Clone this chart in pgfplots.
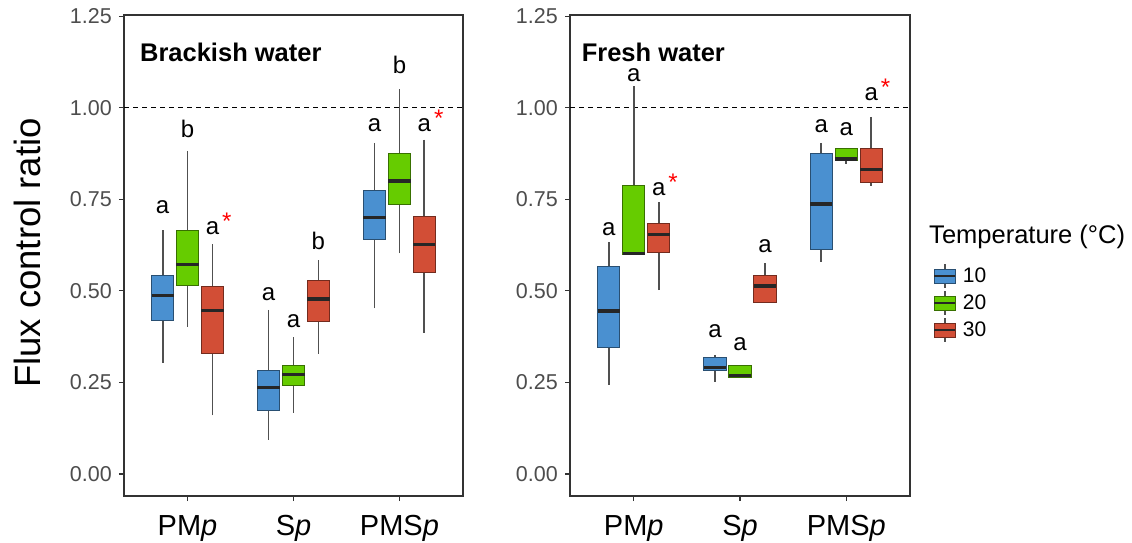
\documentclass[border=0pt]{standalone}
\usepackage{fontspec}
\setmainfont{Liberation Sans}
\usepackage{pgfplots}
\pgfplotsset{compat=1.18}
\usepgfplotslibrary{statistics}
\definecolor{c10}{RGB}{74,144,208}
\definecolor{c20}{RGB}{102,204,0}
\definecolor{c30}{RGB}{210,78,54}
\definecolor{tickgray}{RGB}{77,77,77}
\definecolor{axgray}{RGB}{51,51,51}
\definecolor{whisk}{RGB}{80,80,80}

% draw position, lower whisker, lower quartile, median, upper quartile, upper whisker, colour
\newcommand{\bx}[7]{\addplot[forget plot, fill=#7, draw=#7!55!black, line width=0.9bp,
  boxplot prepared={draw position=#1, lower whisker=#2, lower quartile=#3,
  median=#4, upper quartile=#5, upper whisker=#6, box extend=0.21, whisker extend=0,
  every whisker/.style={draw=whisk, line width=1.7bp},
  every median/.style={draw=black!85, line width=3.2bp}}]
  coordinates {};}
\newcommand{\st}{\rlap{\raisebox{5bp}{\hspace{3bp}\textcolor{red}{*}}}}
\tikzset{lbl/.style={anchor=base, font=\fontsize{24bp}{28bp}\selectfont, inner sep=0pt}}

\pgfplotsset{
  panel/.style={
    scale only axis, width=339bp, height=481bp,
    xmin=0.4, xmax=3.6, ymin=-0.06, ymax=1.253,
    xtick={1,2,3}, xticklabels={PM\textit{p},S\textit{p},PMS\textit{p}},
    ytick={0,0.25,0.5,0.75,1,1.25},
    xtick pos=left, ytick pos=left,
    tick align=outside, major tick length=5bp,
    axis line style={axgray, line width=1.1bp},
    every tick/.style={axgray, line width=1.1bp},
    yticklabel style={/pgf/number format/fixed, /pgf/number format/fixed zerofill,
      /pgf/number format/precision=2, /pgf/number format/assume math mode=true,
      font=\fontsize{21.5bp}{25bp}\selectfont, text=tickgray, inner sep=0pt, xshift=-7bp},
    xticklabel style={font=\fontsize{29bp}{33bp}\selectfont, text=black, inner sep=0pt,
      text height=21bp, text depth=0bp, yshift=-13bp},
    clip=false,
    boxplot/draw direction=y,
  },
}

\begin{document}
\begin{tikzpicture}
\path[use as bounding box] (0,0) rectangle (1132bp,543bp);

% ---------- Brackish water ----------
\begin{axis}[panel, at={(124bp,47bp)}, anchor=south west,
  ylabel={Flux control ratio},
  every axis y label/.style={at={(axis description cs:-0.286,0.505)}, rotate=90, anchor=center,
    font=\fontsize{36.5bp}{40bp}\selectfont}]
\addplot[forget plot, black, dashed, line width=1.1bp, dash pattern=on 5bp off 4bp] coordinates {(0.4,1) (3.6,1)};
% PMp
\bx{0.765}{0.304}{0.420}{0.487}{0.541}{0.666}{c10}
\bx{1.000}{0.402}{0.516}{0.573}{0.666}{0.882}{c20}
\bx{1.235}{0.160}{0.328}{0.446}{0.511}{0.627}{c30}
% Sp
\bx{1.765}{0.093}{0.173}{0.237}{0.284}{0.448}{c10}
\bx{2.000}{0.167}{0.241}{0.271}{0.295}{0.373}{c20}
\bx{2.235}{0.328}{0.416}{0.478}{0.528}{0.584}{c30}
% PMSp
\bx{2.765}{0.452}{0.640}{0.700}{0.774}{0.904}{c10}
\bx{3.000}{0.602}{0.735}{0.800}{0.876}{1.050}{c20}
\bx{3.235}{0.386}{0.551}{0.627}{0.704}{0.913}{c30}
\node[lbl] at (axis cs:0.765,0.711) {a};
\node[lbl] at (axis cs:1.000,0.919) {b};
\node[lbl] at (axis cs:1.235,0.655) {a\st};
\node[lbl] at (axis cs:1.765,0.475) {a};
\node[lbl] at (axis cs:2.000,0.399) {a};
\node[lbl] at (axis cs:2.235,0.613) {b};
\node[lbl] at (axis cs:2.765,0.936) {a};
\node[lbl] at (axis cs:3.000,1.092) {b};
\node[lbl] at (axis cs:3.235,0.936) {a\st};
\node[anchor=west, inner sep=0pt, font=\bfseries\fontsize{25.5bp}{28bp}\selectfont]
  at (rel axis cs:0.047,0.922) {Brackish water};
\end{axis}

% ---------- Fresh water ----------
\begin{axis}[panel, at={(570bp,47bp)}, anchor=south west, width=340bp,
  legend style={at={(rel axis cs:1.06,0.49)}, anchor=north west, draw=none, fill=none,
    font=\fontsize{21bp}{24bp}\selectfont, row sep=0pt,
    nodes={text height=14bp, text depth=0bp, inner sep=6.5bp}},
  legend cell align=left]
\addplot[forget plot, black, dashed, line width=1.1bp, dash pattern=on 5bp off 4bp] coordinates {(0.4,1) (3.6,1)};
% PMp
\bx{0.765}{0.243}{0.345}{0.445}{0.566}{0.634}{c10}
\bx{1.000}{0.598}{0.598}{0.602}{0.789}{1.059}{c20}
\bx{1.235}{0.502}{0.605}{0.654}{0.684}{0.742}{c30}
% Sp
\bx{1.765}{0.252}{0.284}{0.290}{0.318}{0.325}{c10}
\bx{2.000}{0.264}{0.264}{0.270}{0.295}{0.295}{c20}
\bx{2.235}{0.469}{0.469}{0.513}{0.541}{0.575}{c30}
% PMSp
\bx{2.765}{0.580}{0.613}{0.737}{0.875}{0.904}{c10}
\bx{3.000}{0.846}{0.855}{0.860}{0.890}{0.890}{c20}
\bx{3.235}{0.787}{0.795}{0.832}{0.890}{0.975}{c30}
\node[lbl] at (axis cs:0.765,0.650) {a};
\node[lbl] at (axis cs:1.000,1.071) {a};
\node[lbl] at (axis cs:1.235,0.761) {a\st};
\node[lbl] at (axis cs:1.765,0.373) {a};
\node[lbl] at (axis cs:2.000,0.338) {a};
\node[lbl] at (axis cs:2.235,0.605) {a};
\node[lbl] at (axis cs:2.765,0.932) {a};
\node[lbl] at (axis cs:3.000,0.925) {a};
\node[lbl] at (axis cs:3.235,1.019) {a\st};
\node[anchor=west, inner sep=0pt, font=\bfseries\fontsize{25.5bp}{28bp}\selectfont]
  at (rel axis cs:0.034,0.922) {Fresh water};
\node[anchor=west, inner sep=0pt, font=\fontsize{25.5bp}{28bp}\selectfont]
  at (rel axis cs:1.056,0.5385) {Temperature (°C)};
\addlegendimage{legend image code/.code={
  \draw[whisk, line width=1.2bp] (10.5bp,-12bp) -- (10.5bp,12bp);
  \draw[fill=c10, draw=c10!55!black, line width=0.9bp] (0bp,-7bp) rectangle (21bp,7bp);
  \draw[black!85, line width=1.8bp] (0bp,0bp) -- (21bp,0bp);}}
\addlegendentry{10}
\addlegendimage{legend image code/.code={
  \draw[whisk, line width=1.2bp] (10.5bp,-12bp) -- (10.5bp,12bp);
  \draw[fill=c20, draw=c20!55!black, line width=0.9bp] (0bp,-7bp) rectangle (21bp,7bp);
  \draw[black!85, line width=1.8bp] (0bp,0bp) -- (21bp,0bp);}}
\addlegendentry{20}
\addlegendimage{legend image code/.code={
  \draw[whisk, line width=1.2bp] (10.5bp,-12bp) -- (10.5bp,12bp);
  \draw[fill=c30, draw=c30!55!black, line width=0.9bp] (0bp,-7bp) rectangle (21bp,7bp);
  \draw[black!85, line width=1.8bp] (0bp,0bp) -- (21bp,0bp);}}
\addlegendentry{30}
\end{axis}
\end{tikzpicture}
\end{document}
